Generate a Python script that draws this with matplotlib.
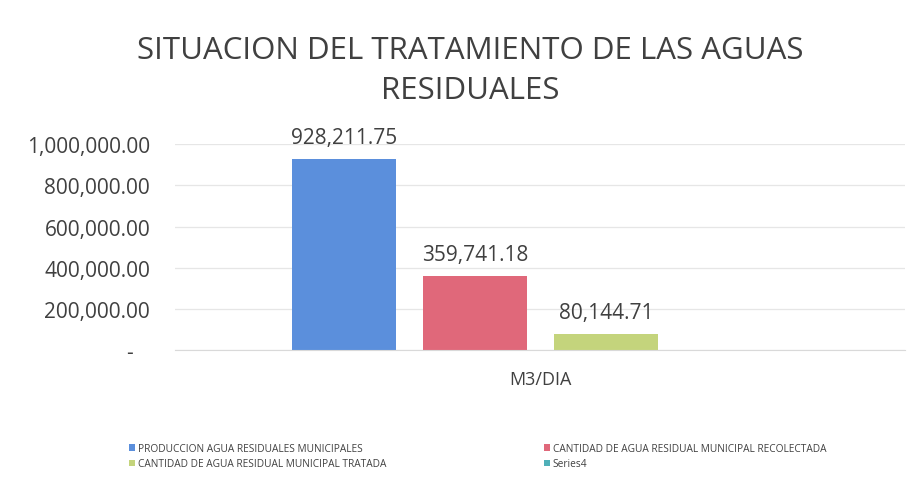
import matplotlib.pyplot as plt
from matplotlib.ticker import FuncFormatter

######################################################################################################################
# DATOS

SERIES = ['PRODUCCION AGUA RESIDUALES MUNICIPALES',
          'CANTIDAD DE AGUA RESIDUAL MUNICIPAL RECOLECTADA',
          'CANTIDAD DE AGUA RESIDUAL MUNICIPAL TRATADA',
          'Series4']
VALORES = [928211.75, 359741.18, 80144.71, 0]
COLORI = ['#5b8fdc', '#e0687a', '#c4d47c', '#4fb0b8']
CATEGORIA = 'M3/DIA'
TICKS_Y = [0, 200000, 400000, 600000, 800000, 1000000]

TESTO = '#404040'
plt.rcParams['font.family'] = ['Open Sans', 'DejaVu Sans']

######################################################################################################################
# Formato tipo contabilita (Excel)
def formato(v, pos):
    if v == 0:
        return '-   '
    return f'{v:,.2f}'

fig = plt.figure(figsize=(9.22, 4.81), dpi=100)
ax = fig.add_axes([0.19, 0.27, 0.792, 0.428])

larghezza = 0.142
passo = 0.1795
barre = []
for i, (nome, val, col) in enumerate(zip(SERIES, VALORES, COLORI)):
    x = (i - 1.5) * passo
    b = ax.bar(x, val, width=larghezza, color=col, label=nome, linewidth=0)
    barre.append(b)
    if val > 0:
        ax.annotate(f'{val:,.2f}', (x, val), xytext=(0, 8), textcoords='offset points',
                    ha='center', va='bottom', fontsize=15, color=TESTO)

ax.set_xlim(-0.5, 0.5)
ax.set_ylim(0, 1000000)
ax.set_yticks(TICKS_Y)
ax.yaxis.set_major_formatter(FuncFormatter(formato))
ax.set_xticks([0])
ax.set_xticklabels([CATEGORIA])
ax.tick_params(axis='y', length=0, labelsize=15, labelcolor=TESTO, pad=18)
ax.tick_params(axis='x', length=0, labelsize=13, labelcolor=TESTO, pad=14)
ax.grid(axis='y', color='#e6e6e6', linewidth=0.9)
ax.set_axisbelow(True)
for s in ['top', 'right', 'left']:
    ax.spines[s].set_visible(False)
ax.spines['bottom'].set_color('#d9d9d9')

fig.suptitle('SITUACION DEL TRATAMIENTO DE LAS AGUAS\nRESIDUALES', x=0.51, y=0.925,
             fontsize=22.5, color=TESTO, linespacing=1.45)

# Legenda: colonne riempite dall'alto verso il basso
ordine = [0, 2, 1, 3]
fig.legend([barre[i] for i in ordine], [SERIES[i] for i in ordine], ncol=2,
           loc='lower left', bbox_to_anchor=(0.13, 0.003), frameon=False, fontsize=7.3,
           handlelength=0.6, handleheight=0.6, handletextpad=0.3, columnspacing=15.5,
           labelspacing=0.45, labelcolor=TESTO)

fig.savefig('out.png', dpi=100)
